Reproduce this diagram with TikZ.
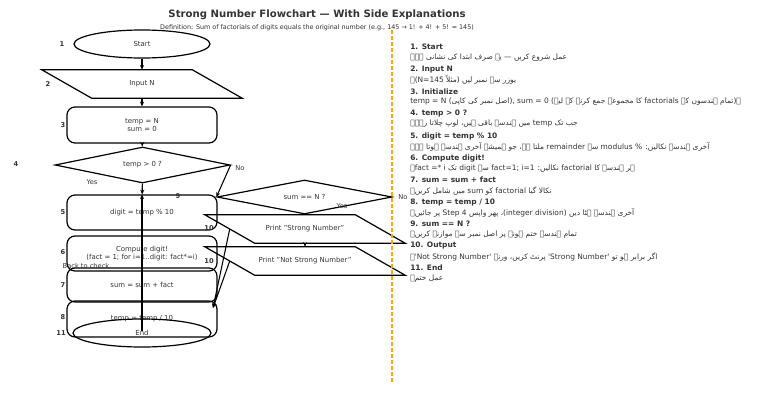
\documentclass[tikz,border=0pt]{standalone}
\usepackage{fontspec}
\setmainfont{DejaVu Sans}
\newfontfamily\urdu[Script=Arabic]{DejaVu Sans}
\TeXXeTstate=1
\usetikzlibrary{shapes.geometric,arrows.meta}
\definecolor{txt}{HTML}{333333}
\definecolor{dashor}{HTML}{FFA500}
\begin{document}
\begin{tikzpicture}[x=0.75pt,y=-0.75pt,
  every node/.style={inner sep=0pt},
  lbl/.style={font=\fontsize{5.2}{6.4}\selectfont, text=txt, align=center},
  shp/.style={draw=black, line width=0.9pt},
  term/.style={lbl, shp, ellipse, minimum width=102pt, minimum height=21pt},
  proc/.style={lbl, shp, rectangle, rounded corners=6pt, minimum width=112.5pt},
  dec/.style={lbl, shp, diamond, aspect=5, minimum width=131.25pt, minimum height=27pt},
  io/.style={lbl, rectangle, minimum width=75pt, minimum height=21pt},
  num/.style={font=\bfseries\fontsize{5}{6}\selectfont, text=txt},
  arr/.style={-{Stealth[length=3.5pt,width=3pt]}, line width=0.8pt},
  note/.style={font=\fontsize{5}{6}\selectfont, text=txt},
  head/.style={anchor=west, font=\bfseries\fontsize{5.6}{6.5}\selectfont, text=txt},
  body/.style={anchor=west, font=\urdu\fontsize{5.6}{6.5}\selectfont, text=txt},
  bodylat/.style={anchor=west, font=\fontsize{5.6}{6.5}\selectfont, text=txt},
]
\fill[white] (0,0) rectangle (768,411);
\useasboundingbox (0,0) rectangle (768,411);

% title
\node[font=\bfseries\fontsize{7.6}{9}\selectfont, text=txt] (title) at (317,15) {Strong Number Flowchart — With Side Explanations};
\node[font=\fontsize{4.8}{6}\selectfont, text=txt] (sub) at (317,28) {Definition: Sum of factorials of digits equals the original number (e.g., 145 → 1! + 4! + 5! = 145)};

% flowchart nodes
\node[term] (start) at (142,44) {Start};
\node[io] (inp) at (142,84) {Input N};
\draw[shp] ([xshift=-37.5pt]inp.north west) -- (inp.north east) -- ([xshift=37.5pt]inp.south east) -- (inp.south west) -- cycle;
\node[proc, minimum height=27pt] (init) at (142,125) {temp = N\\sum = 0};
\node[dec] (chk) at (142.5,165) {temp > 0 ?};
\node[proc, minimum height=26.25pt] (digit) at (142,212.5) {digit = temp \% 10};
\node[proc, minimum height=26.25pt] (fact) at (142,253.5) {Compute digit!\\(fact = 1; for i=1..digit: fact*=i)};
\node[proc, minimum height=25.5pt] (add) at (142,285) {sum = sum + fact};
\node[proc, minimum height=27pt] (div) at (142,319) {temp = temp / 10};
\node[term, minimum width=103.5pt] (end) at (142,333) {End};

\node[dec, minimum height=25.5pt] (eq) at (304.5,197) {sum == N ?};
\node[io] (p1) at (305,229) {Print "Strong Number"};
\draw[shp] ([xshift=-37.5pt]p1.north west) -- (p1.north east) -- ([xshift=37.5pt]p1.south east) -- (p1.south west) -- cycle;
\node[io] (p2) at (305,261) {Print "Not Strong Number"};
\draw[shp] ([xshift=-37.5pt]p2.north west) -- (p2.north east) -- ([xshift=37.5pt]p2.south east) -- (p2.south west) -- cycle;

% connectors
\draw[arr] (start) -- (inp);
\draw[arr] (inp) -- (init);
\draw[arr] (init) -- (chk);
\draw[arr] (chk) -- (digit);
\draw[arr] (chk.east) -- (eq.west);
\coordinate (loopstart) at (142,331);
\draw[arr, line width=1.4pt] (loopstart) -- (digit.north);
\draw[arr] (p1) -- (p2);
\coordinate (endin) at (213,308);
\draw[arr] ([xshift=-18.75pt]p1.west) -- (endin);
\draw[arr] ([xshift=-18.75pt]p2.west) -- (endin);

% labels
\node[note] (yes1) at (92,182) {Yes};
\node[note] (no1) at (240,168) {No};
\node[note] (yes2) at (342,206) {Yes};
\node[note] (no2) at (403,197) {No};
\node[note] (back) at (86,266) {Back to check};

\node[num] (n1) at (62,44) {1};
\node[num] (n2) at (48,84) {2};
\node[num] (n3) at (63,125) {3};
\node[num] (n4) at (16,164) {4};
\node[num] (n5) at (63,212) {5};
\node[num] (n6) at (63,252) {6};
\node[num] (n7) at (63,285) {7};
\node[num] (n8) at (63,317) {8};
\node[num] (n11) at (61,333) {11};
\node[num] (n9) at (178,196) {9};
\node[num] (n10a) at (209,228) {10};
\node[num] (n10b) at (209,261) {10};

% divider
\coordinate (dtop) at (392,30);
\coordinate (dbot) at (392,382);
\draw[dashor, line width=0.8pt, dash pattern=on 3pt off 1.5pt] (dtop) -- (dbot);

% side explanations
\node[head] (h1) at (410,47) {1. Start};
\node[body] (b1) at (410,58) {\beginR عمل شروع کریں — یہ صرف ابتدا کی نشانی ہے۔\endR};
\node[head] (h2) at (410,70) {2. Input N};
\node[body] (b2) at (410,80) {\beginR یوزر سے نمبر لیں (مثلاً \beginL N=145\endL)۔\endR};
\node[head] (h3) at (410,92) {3. Initialize};
\node[bodylat] (b3) at (410,102) {temp = N (\beginR{\urdu اصل نمبر کی کاپی}\endR), sum = 0 (\beginR{\urdu تمام ہندسوں کے }\beginL factorials\endL{\urdu{} کا مجموعہ جمع کرنے کے لیے}\endR){\urdu ۔}};
\node[head] (h4) at (410,114) {4. temp > 0 ?};
\node[body] (b4) at (410,124) {\beginR جب تک \beginL temp\endL{} میں ہندسے باقی ہیں، لوپ چلاتا رہے۔\endR};
\node[head] (h5) at (410,136) {5. digit = temp \% 10};
\node[body] (b5) at (410,147) {\beginR آخری ہندسہ نکالیں: \beginL modulus \%\endL{} سے \beginL remainder\endL{} ملتا ہے، جو ہمیشہ آخری ہندسہ ہوتا ہے۔\endR};
\node[head] (h6) at (410,158) {6. Compute digit!};
\node[body] (b6) at (410,169) {\beginR ہر ہندسے کا \beginL factorial\endL{} نکالیں: \beginL fact=1; i=1\endL{} سے \beginL digit\endL{} تک \beginL fact *= i\endL۔\endR};
\node[head] (h7) at (410,180) {7. sum = sum + fact};
\node[body] (b7) at (410,191) {\beginR نکالا گیا \beginL factorial\endL{} کو \beginL sum\endL{} میں شامل کریں۔\endR};
\node[head] (h8) at (410,203) {8. temp = temp / 10};
\node[body] (b8) at (410,213) {\beginR آخری ہندسہ ہٹا دیں (\beginL integer division\endL)، پھر واپس \beginL Step 4\endL{} پر جائیں۔\endR};
\node[head] (h9) at (410,224) {9. sum == N ?};
\node[body] (b9) at (410,235) {\beginR تمام ہندسے ختم ہونے پر اصل نمبر سے موازنہ کریں۔\endR};
\node[head] (h10) at (410,246) {10. Output};
\node[body] (b10) at (410,257) {\beginR اگر برابر ہو تو \beginL 'Strong Number'\endL{} پرنٹ کریں، ورنہ \beginL 'Not Strong Number'\endL۔\endR};
\node[head] (h11) at (410,268) {11. End};
\node[body] (b11) at (410,279) {\beginR عمل ختم۔\endR};
\end{tikzpicture}
\end{document}
